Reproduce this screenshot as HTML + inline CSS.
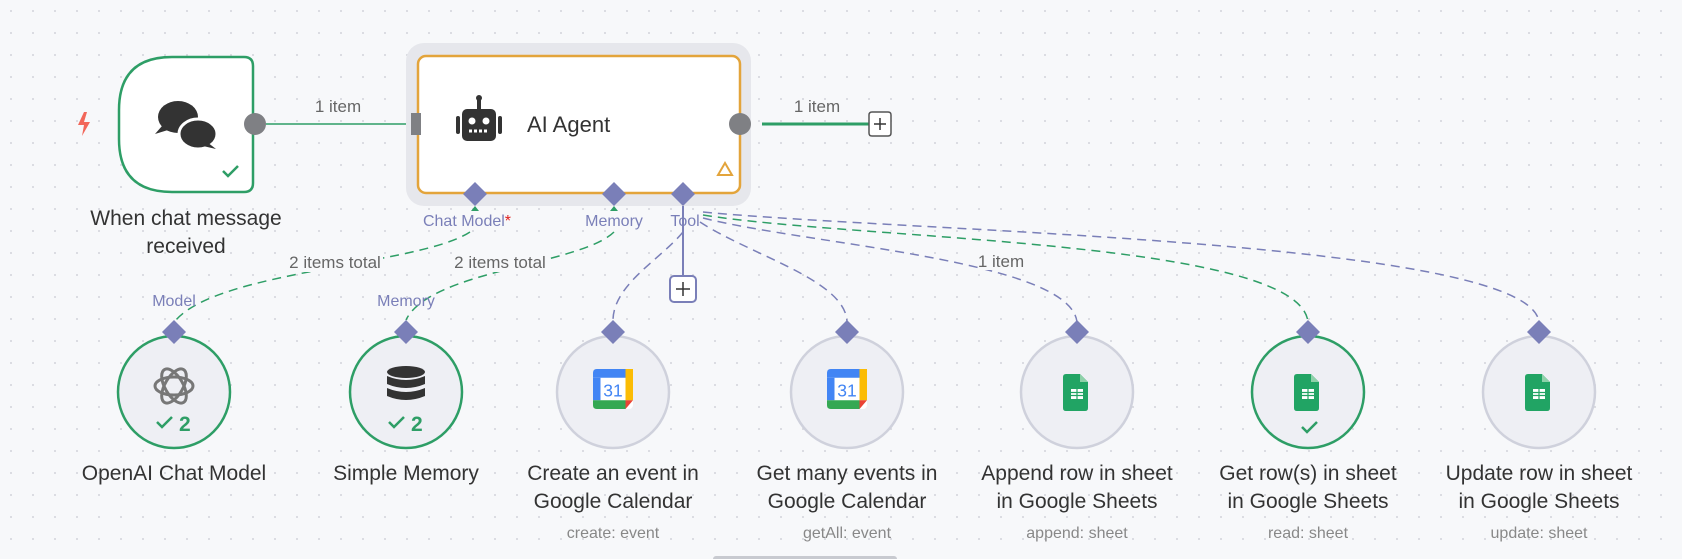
<!DOCTYPE html>
<html><head><meta charset="utf-8"><style>
html,body{margin:0;padding:0;background:#f7f8fa;}
svg{display:block;font-family:"Liberation Sans",sans-serif;}
</style></head><body>
<svg width="1682" height="559" viewBox="0 0 1682 559" xmlns="http://www.w3.org/2000/svg">
<defs>
<pattern id="dots" width="22" height="22" patternUnits="userSpaceOnUse"><circle cx="11" cy="11" r="1" fill="#d2d4da"/></pattern>
<g id="sheet"><path d="M-11,-17 h14 l8,8 v26 q0,3 -3,3 h-19 q-3,0 -3,-3 v-31 q0,-3 3,-3z" fill="#21a464"/><path d="M3,-17 l8,8 h-8z" fill="#8ed1a9"/><rect x="-6" y="-2" width="12" height="10" fill="#fff"/><path d="M-6,1.5h12M-6,4.5h12M0,-2v10" stroke="#21a464" stroke-width="1.2"/></g>
<g id="cal" transform="scale(1.25)"><rect x="-16" y="-16" width="32" height="32" rx="3" fill="#fff"/><path d="M-16,-13 q0,-3 3,-3 h24 v7 h-27z" fill="#4285f4"/><rect x="-16" y="-9" width="6" height="18" fill="#4285f4"/><rect x="10" y="-16" width="6" height="25" fill="#fbbc04"/><path d="M-16,9 h26 v7 h-23 q-3,0 -3,-3z" fill="#34a853"/><path d="M10,9 h6 l-6,7z" fill="#ea4335"/><text x="0" y="6" font-size="14" fill="#4285f4" text-anchor="middle">31</text></g>
</defs>
<rect width="1682" height="559" fill="url(#dots)"/>

<!-- connectors -->
<path d="M266,124 H414" stroke="#2e9e66" stroke-width="1.5" fill="none"/>
<path d="M408,119 l8,5 -8,5z" fill="#2e9e66"/>
<path d="M762,124 H872" stroke="#2e9e66" stroke-width="3" fill="none"/>
<g fill="none" stroke-width="1.5" stroke-dasharray="9 6">
<path d="M470,232 C420,265 220,270 176,320" stroke="#2e9e66"/>
<path d="M614,232 C580,265 430,270 406,320" stroke="#2e9e66"/>
<path d="M683,232 C660,260 612,285 613,322" stroke="#7a7fb8"/>
<path d="M700,222 C750,255 846,280 847,322" stroke="#7a7fb8"/>
<path d="M703,218 C810,245 1070,260 1077,322" stroke="#7a7fb8"/>
<path d="M703,215 C860,240 1300,240 1308,322" stroke="#2e9e66"/>
<path d="M703,212 C910,232 1530,240 1539,322" stroke="#7a7fb8"/>
</g>
<rect x="978" y="250" width="46" height="20" fill="#f7f8fa"/>
<text x="1001" y="267" font-size="17" fill="#666" text-anchor="middle">1 item</text>
<path d="M683,205 V280" stroke="#7a7fb8" stroke-width="2"/>
<rect x="670" y="276" width="26" height="26" rx="4" fill="#fff" stroke="#7a7fb8" stroke-width="2"/>
<path d="M676,289h14M683,282v14" stroke="#333" stroke-width="1.5"/>

<text x="338" y="112" font-size="17" fill="#666" text-anchor="middle">1 item</text>
<text x="817" y="112" font-size="17" fill="#666" text-anchor="middle">1 item</text>
<rect x="287" y="252" width="96" height="20" fill="#f7f8fa"/>
<text x="335" y="268" font-size="17" fill="#666" text-anchor="middle">2 items total</text>
<rect x="452" y="252" width="96" height="20" fill="#f7f8fa"/>
<text x="500" y="268" font-size="17" fill="#666" text-anchor="middle">2 items total</text>

<!-- trigger -->
<path d="M84,112 l-6,13 h6 l-2,11 8,-14 h-6 l3,-10z" fill="#f2675a"/>
<path d="M172,57 H244 q9,0 9,9 V183 q0,9 -9,9 H172 q-53,0 -53,-53 V110 q0,-53 53,-53z" fill="#fff" stroke="#2e9e66" stroke-width="2.5"/>
<ellipse cx="178" cy="117" rx="20" ry="16" fill="#333"/><path d="M162,126 l-7,8 13,-4z" fill="#333"/>
<ellipse cx="198" cy="134" rx="19" ry="15" fill="#333" stroke="#fff" stroke-width="3"/><path d="M207,142 l9,7 -13,-3z" fill="#333"/>
<path d="M223,171 l5,5 10,-10" stroke="#2e9e66" stroke-width="2.5" fill="none"/>
<circle cx="255" cy="124" r="11" fill="#7f8084"/>
<text x="186" y="225" font-size="21" fill="#333" text-anchor="middle">When chat message</text>
<text x="186" y="253" font-size="21" fill="#333" text-anchor="middle">received</text>

<!-- agent -->
<rect x="406" y="43" width="345" height="163" rx="18" fill="#e6e7ec"/>
<rect x="418" y="56" width="322" height="137" rx="8" fill="#fff" stroke="#e3a43b" stroke-width="2.5"/>
<rect x="411" y="113" width="10" height="22" fill="#7f8084"/>
<circle cx="740" cy="124" r="11" fill="#7f8084"/>
<rect x="462" y="109" width="34" height="32" rx="5" fill="#333"/><rect x="456" y="116" width="4" height="18" rx="2" fill="#333"/><rect x="498" y="116" width="4" height="18" rx="2" fill="#333"/><rect x="477" y="98" width="4" height="11" fill="#333"/><circle cx="479" cy="98" r="3" fill="#333"/>
<circle cx="472" cy="121" r="3.5" fill="#fff"/><circle cx="486" cy="121" r="3.5" fill="#fff"/><path d="M469,131h20" stroke="#fff" stroke-width="3" stroke-dasharray="3 2"/>
<text x="527" y="132" font-size="22" fill="#333">AI Agent</text>
<path d="M718,175 l7,-12 7,12z" fill="none" stroke="#e3a43b" stroke-width="2"/>
<g fill="#7a7fb8"><path d="M475,182 l12,12 -12,12 -12,-12z"/><path d="M614,182 l12,12 -12,12 -12,-12z"/><path d="M683,182 l12,12 -12,12 -12,-12z"/></g>
<path d="M471,211 l4,-5 4,5z" fill="#2e9e66"/><path d="M610,211 l4,-5 4,5z" fill="#2e9e66"/>
<g font-size="16" fill="#7a7fb8" text-anchor="middle"><text x="467" y="226">Chat Model<tspan fill="#e02020">*</tspan></text><text x="614" y="226">Memory</text><text x="685" y="226">Tool</text>
<text x="174" y="306">Model</text><text x="406" y="306">Memory</text></g>
<path d="M872,112 h16 q3,0 3,3 v18 q0,3 -3,3 h-16 q-3,0 -3,-3 v-18 q0,-3 3,-3z" fill="#fff" stroke="#555" stroke-width="1.5"/>
<path d="M874,124h12M880,118v12" stroke="#333" stroke-width="1.5"/>

<!-- sub nodes -->
<g stroke-width="2.5">
<circle cx="174" cy="392" r="56" fill="#eeeff4" stroke="#2e9e66"/>
<circle cx="406" cy="392" r="56" fill="#eeeff4" stroke="#2e9e66"/>
<circle cx="613" cy="392" r="56" fill="#eeeff4" stroke="#cfd1dc"/>
<circle cx="847" cy="392" r="56" fill="#eeeff4" stroke="#cfd1dc"/>
<circle cx="1077" cy="392" r="56" fill="#eeeff4" stroke="#cfd1dc"/>
<circle cx="1308" cy="392" r="56" fill="#eeeff4" stroke="#2e9e66"/>
<circle cx="1539" cy="392" r="56" fill="#eeeff4" stroke="#cfd1dc"/>
</g>
<g fill="#7a7fb8"><path d="M174,320 l12,12 -12,12 -12,-12z"/><path d="M406,320 l12,12 -12,12 -12,-12z"/><path d="M613,320 l12,12 -12,12 -12,-12z"/><path d="M847,320 l12,12 -12,12 -12,-12z"/><path d="M1077,320 l12,12 -12,12 -12,-12z"/><path d="M1308,320 l12,12 -12,12 -12,-12z"/><path d="M1539,320 l12,12 -12,12 -12,-12z"/></g>
<g fill="none" stroke="#777" stroke-width="3"><ellipse cx="174" cy="386" rx="19" ry="9"/><ellipse cx="174" cy="386" rx="19" ry="9" transform="rotate(60 174 386)"/><ellipse cx="174" cy="386" rx="19" ry="9" transform="rotate(-60 174 386)"/></g>
<g fill="#333"><ellipse cx="406" cy="372" rx="19" ry="6"/><path d="M387,376 q19,8 38,0 v8 q-19,8 -38,0z"/><path d="M387,388 q19,8 38,0 v8 q-19,8 -38,0z"/></g>
<g stroke="#2e9e66" stroke-width="2.5" fill="none"><path d="M157,422 l5,5 10,-10"/><path d="M389,422 l5,5 10,-10"/><path d="M1302,427 l5,5 10,-10"/></g>
<g font-size="21" fill="#2e9e66" font-weight="bold"><text x="179" y="431">2</text><text x="411" y="431">2</text></g>
<use href="#cal" x="613" y="389"/><use href="#cal" x="847" y="389"/>
<use href="#sheet" x="1077" y="391"/><use href="#sheet" x="1308" y="391"/><use href="#sheet" x="1539" y="391"/>

<g font-size="21" fill="#333" text-anchor="middle">
<text x="174" y="480">OpenAI Chat Model</text>
<text x="406" y="480">Simple Memory</text>
<text x="613" y="480">Create an event in</text><text x="613" y="508">Google Calendar</text>
<text x="847" y="480">Get many events in</text><text x="847" y="508">Google Calendar</text>
<text x="1077" y="480">Append row in sheet</text><text x="1077" y="508">in Google Sheets</text>
<text x="1308" y="480">Get row(s) in sheet</text><text x="1308" y="508">in Google Sheets</text>
<text x="1539" y="480">Update row in sheet</text><text x="1539" y="508">in Google Sheets</text>
</g>
<g font-size="16" fill="#888" text-anchor="middle">
<text x="613" y="538">create: event</text><text x="847" y="538">getAll: event</text><text x="1077" y="538">append: sheet</text><text x="1308" y="538">read: sheet</text><text x="1539" y="538">update: sheet</text>
</g>
<rect x="713" y="556" width="184" height="6" rx="3" fill="#c8cad0"/>
</svg>
</body></html>
